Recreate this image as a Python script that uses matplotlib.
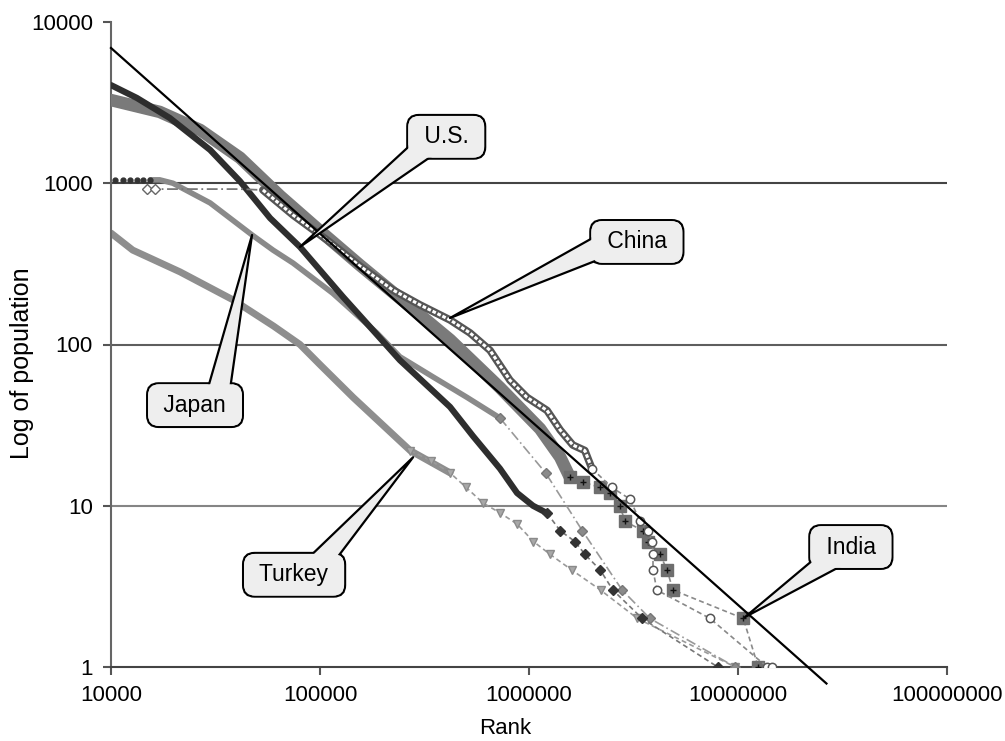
import matplotlib.pyplot as plt

plt.rcParams['font.family'] = ['Liberation Sans', 'DejaVu Sans']

# ---------------- values ----------------
fit_rank = [1e4, 2.65e7]
fit_pop = [6900, 0.79]

india_rank = [1e4, 1.71e4, 2.67e4, 4.14e4, 6.44e4, 1.0e5, 1.55e5, 2.41e5,
              4.19e5, 7.26e5, 1.13e6, 1.41e6, 1.57e6]
india_pop = [3280, 2770, 2140, 1440, 834, 506, 311, 194, 107, 54, 30, 20, 15]
india_tail_rank = [1.57e6, 1.81e6, 2.19e6, 2.44e6, 2.72e6, 2.88e6, 3.51e6,
                   3.71e6, 4.24e6, 4.57e6, 4.89e6, 1.06e7, 1.25e7]
india_tail_pop = [15, 14, 13, 12, 10, 8, 7, 6, 5, 4, 3, 2, 1]

us_rank = [1e4, 1.33e4, 1.91e4, 2.98e4, 4.14e4, 5.77e4, 8.02e4, 1.29e5,
           2.41e5, 4.19e5, 5.4e5, 7.26e5, 8.77e5, 1.045e6, 1.22e6]
us_pop = [4060, 3380, 2540, 1610, 1030, 608, 403, 197, 80, 41, 27, 17, 12, 10, 9]
us_tail_rank = [1.22e6, 1.41e6, 1.66e6, 1.85e6, 2.19e6, 2.52e6, 3.48e6, 8.0e6]
us_tail_pop = [9, 7, 6, 5, 4, 3, 2, 1]

japan_head_rank = [10450, 11400, 12300, 13300, 14200, 15400]
japan_head_pop = [1050, 1050, 1050, 1050, 1050, 1050]
japan_rank = [1.54e4, 1.71e4, 1.98e4, 2.98e4, 4.73e4, 5.96e4, 7.43e4, 1.15e5,
              1.87e5, 2.41e5, 3.47e5, 5.05e5, 7.26e5]
japan_pop = [1050, 1050, 1000, 755, 478, 385, 320, 208, 118, 84, 63, 47, 35]
japan_tail_rank = [7.26e5, 1.2e6, 1.8e6, 2.79e6, 3.79e6, 9.7e6]
japan_tail_pop = [35, 16, 7, 3, 2, 1]

turkey_rank = [1e4, 1.27e4, 2.14e4, 3.84e4, 6.0e4, 8.02e4, 1.0e5, 1.44e5,
               2.7e5, 4.19e5]
turkey_pop = [491, 385, 282, 189, 130, 100, 75, 47, 22, 16]
turkey_tail_rank = [2.7e5, 3.4e5, 4.19e5, 5.0e5, 6.03e5, 7.3e5, 8.77e5,
                    1.05e6, 1.26e6, 1.6e6, 2.2e6, 3.3e6, 9.7e6]
turkey_tail_pop = [22, 19, 16, 13, 10.4, 9, 7.7, 6, 5, 4, 3, 2, 1]

china_head_rank = [1.49e4, 1.62e4, 4.14e4, 5.33e4]
china_head_pop = [920, 920, 920, 908]
china_rank = [5.33e4, 7.43e4, 1.08e5, 1.55e5, 2.23e5, 3.01e5, 4.19e5, 5.22e5,
              6.51e5, 8.11e5, 9.78e5, 1.22e6, 1.41e6, 1.62e6, 1.85e6, 2.0e6]
china_pop = [908, 635, 445, 307, 218, 176, 142, 118, 92, 60, 47, 39, 29.5,
             23.8, 22, 17]
china_tail_rank = [2.0e6, 2.49e6, 3.04e6, 3.4e6, 3.71e6, 3.88e6, 3.92e6,
                   3.92e6, 4.09e6, 7.35e6, 1.38e7, 1.45e7]
china_tail_pop = [17, 13, 11, 8, 7, 6, 5, 4, 3, 2, 1, 1]

x_ticks = [1e4, 1e5, 1e6, 1e7, 1e8]
x_labels = ['10000', '100000', '1000000', '10000000', '100000000']
y_ticks = [1, 10, 100, 1000, 10000]
y_labels = ['1', '10', '100', '1000', '10000']
grid_levels = [10, 100, 1000]
grid_colors = ['#858585', '#5e5e5e', '#444444']

# callouts : label, point visé, position de la boîte, départ du coin
callouts = [
    ('U.S.', (8.02e4, 403), (0.401, 0.822), (0.15, 0.1)),
    ('China', (4.19e5, 146), (0.629, 0.659), (0.0, 0.3)),
    ('Japan', (4.73e4, 478), (0.1005, 0.406), (0.8, 0.9)),
    ('Turkey', (2.79e5, 20), (0.219, 0.143), (0.78, 0.9)),
    ('India', (1.08e7, 2.04), (0.885, 0.186), (0.25, 0.1)),
]

# ---------------- figure ----------------
fig = plt.figure(figsize=(10.05, 7.41), dpi=100)
ax = fig.add_axes([111 / 1005, 1 - 667 / 741, 836 / 1005, 645 / 741])
ax.set_xscale('log')
ax.set_yscale('log')
ax.set_xlim(1e4, 1e8)
ax.set_ylim(1, 1e4)

for g, c in zip(grid_levels, grid_colors):
    ax.axhline(g, color=c, lw=1.5, zorder=1)

# Turkey
ax.plot(turkey_rank, turkey_pop, color='#8e8e8e', lw=5, zorder=2,
        solid_capstyle='round', solid_joinstyle='round')
ax.plot(turkey_tail_rank, turkey_tail_pop, color='#9a9a9a', lw=1.2,
        ls=(0, (3, 2)), marker='v', ms=6, mfc='#a8a8a8', mec='#8a8a8a', zorder=2)

# Japan
ax.plot(japan_rank, japan_pop, color='#8a8a8a', lw=4, zorder=3,
        solid_capstyle='round', solid_joinstyle='round')
ax.plot(japan_tail_rank, japan_tail_pop, color='#999999', lw=1.2,
        ls=(0, (6, 2, 1, 2)), marker='D', ms=5, mfc='#8a8a8a', mec='#777777',
        zorder=3)
ax.plot(japan_head_rank, japan_head_pop, ls='none', marker='o', ms=3.5,
        color='#333333', zorder=3)

# India
ax.plot(india_rank, india_pop, color='#7a7a7a', lw=9, zorder=3.5,
        solid_capstyle='round', solid_joinstyle='round')
ax.plot(india_tail_rank, india_tail_pop, color='#8a8a8a', lw=1.2,
        ls=(0, (3, 2)), marker='s', ms=8, mfc='#6e6e6e', mec='#6e6e6e',
        zorder=3.5)
ax.plot(india_tail_rank, india_tail_pop, ls='none', marker='+', ms=5,
        mew=1, color='#111111', zorder=3.6)

# U.S.
ax.plot(us_rank, us_pop, color='#2e2e2e', lw=4.5, zorder=4,
        solid_capstyle='round', solid_joinstyle='round')
ax.plot(us_tail_rank, us_tail_pop, color='#777777', lw=1.2,
        ls=(0, (3, 2)), marker='D', ms=5, mfc='#333333', mec='#333333',
        zorder=4)

# China
ax.plot(china_head_rank, china_head_pop, color='#777777', lw=1.3,
        ls=(0, (6, 2, 1, 2)), zorder=5)
ax.plot(china_head_rank[:2], china_head_pop[:2], ls='none', marker='D',
        ms=5, mfc='white', mec='#666666', zorder=5)
ax.plot(china_rank, china_pop, color='#555555', lw=5.5, zorder=5,
        solid_capstyle='round', solid_joinstyle='round')
ax.plot(china_rank, china_pop, color='white', lw=2.2, ls=(0, (1.2, 0.6)),
        zorder=5.1)
ax.plot(china_tail_rank, china_tail_pop, color='#888888', lw=1.2,
        ls=(0, (3, 2)), marker='o', ms=6, mfc='white', mec='#555555',
        mew=1.1, zorder=5.2)

# droite de référence
ax.plot(fit_rank, fit_pop, color='black', lw=1.6, zorder=6, clip_on=False)

# ---------------- axes ----------------
for s in ['top', 'right']:
    ax.spines[s].set_visible(False)
ax.spines['left'].set_color('#666666')
ax.spines['bottom'].set_color('#444444')
for s in ['left', 'bottom']:
    ax.spines[s].set_linewidth(1.5)
ax.set_xticks(x_ticks)
ax.set_xticklabels(x_labels)
ax.set_yticks(y_ticks)
ax.set_yticklabels(y_labels)
ax.minorticks_off()
ax.tick_params(direction='out', length=6, width=1.5, color='#555555',
               labelsize=16, pad=7)
fig.text(505 / 1005, 1 - 728 / 741, 'Rank', fontsize=16, ha='center',
         va='center')
fig.text(22 / 1005, 1 - 363 / 741, 'Log of population', fontsize=18,
         rotation=90, ha='center', va='center')

# ---------------- callouts ----------------
for label, tip, pos, rel in callouts:
    txt = ' ' + label + ' '
    ax.text(pos[0], pos[1], txt, transform=ax.transAxes, fontsize=16.5,
            ha='center', va='center', color='none', zorder=7,
            bbox=dict(boxstyle='round,pad=0.45,rounding_size=0.5',
                      fc='#eeeeee', ec='black', lw=1.6))
    ax.annotate(txt, xy=tip, xycoords='data', xytext=pos,
                textcoords='axes fraction', fontsize=16.5, ha='center',
                va='center', zorder=8,
                bbox=dict(boxstyle='round,pad=0.41,rounding_size=0.5',
                          fc='#eeeeee', ec='none'),
                arrowprops=dict(arrowstyle='wedge,tail_width=1.0,shrink_factor=0.5',
                                fc='#eeeeee', ec='black', lw=1.6,
                                shrinkA=0, shrinkB=0, patchA=None,
                                relpos=rel))

fig.savefig('out.png', dpi=100)
